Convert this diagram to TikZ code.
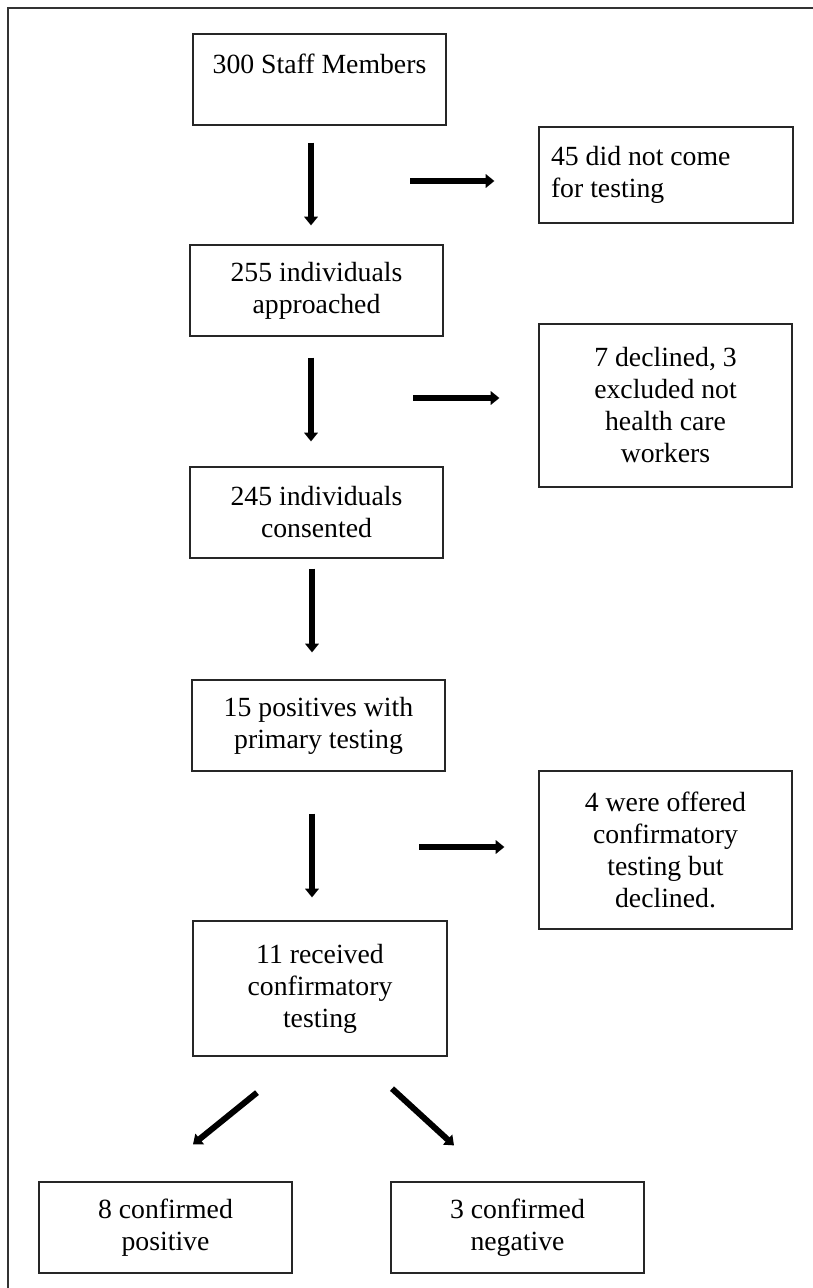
\documentclass[tikz,border=0pt]{standalone}
\usepackage{fontspec}
\setmainfont{Liberation Serif}
\usetikzlibrary{arrows.meta,calc}
\newcommand\boxfont{\fontsize{20.8pt}{24pt}\selectfont}
\begin{document}
\begin{tikzpicture}[x=0.75pt,y=-0.75pt,
  box/.style={draw=black!85,line width=0.9pt,inner sep=0pt,align=center,
    minimum width=189.75pt,minimum height=68.25pt,font=\boxfont},
  leftbox/.style={box,align=flush left,text width=172.5pt,inner xsep=9pt},
  arr/.style={line width=4.5pt,-{Triangle[width=10pt,length=6.5pt]}},
  frame/.style={draw=black!80,line width=0.8pt}]
\useasboundingbox (0,0) rectangle (813,1288);
\draw[frame] (8,1288) -- (8,8) -- (813,8);
% main column
\node[box] (n1) at (319.5,79.5) {300 Staff Members\\\mbox{}};
\node[box] (n2) at (316.5,290.5) {255 individuals\\approached};
\node[box] (n3) at (316.5,512.5) {245 individuals\\consented};
\node[box] (n4) at (318.5,725.5) {15 positives with\\primary testing};
\node[box,minimum width=190.5pt,minimum height=101.25pt] (n5) at (320,988.5) {11 received\\confirmatory\\testing};
% side boxes
\node[leftbox,minimum height=72pt] (s1) at (666,175) {45 did not come\\for testing};
\node[box,minimum height=122.25pt] (s2) at (665.5,405.5) {7 declined, 3\\excluded not\\health care\\workers};
\node[box,minimum height=118.5pt] (s3) at (665.5,850) {4 were offered\\confirmatory\\testing but\\declined.};
% bottom boxes
\node[box] (b1) at (165.5,1227.5) {8 confirmed\\positive};
\node[box] (b2) at (517.5,1227.5) {3 confirmed\\negative};
% arrows
\draw[arr] ($(n1.south)+(-8.5,17)$) -- ($(n2.north)+(-5.5,-19)$);
\draw[arr] ($(s1.west)+(-128,6)$) -- ($(s1.west)+(-44,6)$);
\draw[arr] ($(n2.south)+(-5.5,21)$) -- ($(n3.north)+(-5.5,-25)$);
\draw[arr] ($(s2.west)+(-125,-7.5)$) -- ($(s2.west)+(-39,-7.5)$);
\draw[arr] ($(n3.south)+(-4.5,10)$) -- ($(n4.north)+(-6.5,-27)$);
\draw[arr] ($(n4.south)+(-6.5,42)$) -- ($(n5.north)+(-8,-23)$);
\draw[arr] ($(s3.west)+(-119,-3)$) -- ($(s3.west)+(-34,-3)$);
\draw[arr] ($(n5.south)+(-63,36)$) -- ($(b1.north)+(27.5,-37)$);
\draw[arr] ($(n5.south)+(72,32)$) -- ($(b2.north)+(-63.5,-36)$);
\end{tikzpicture}
\end{document}
